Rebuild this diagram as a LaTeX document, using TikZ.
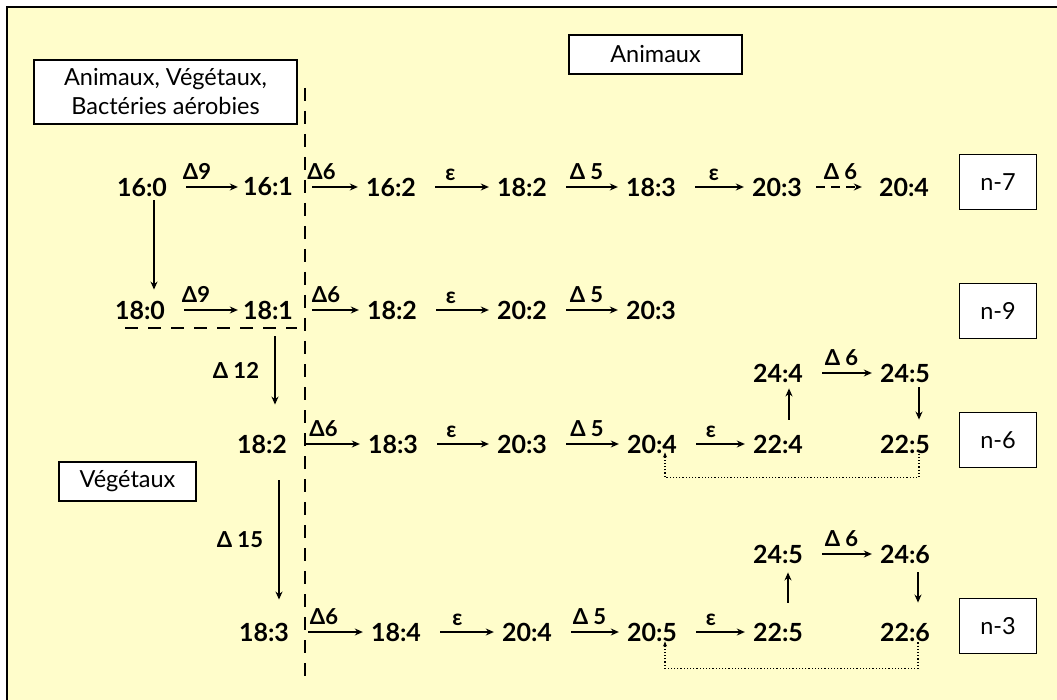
\documentclass[tikz,border=0pt]{standalone}
\usepackage{fontspec}
\setmainfont{Lato}
\usetikzlibrary{arrows.meta,calc,positioning}
\definecolor{Fond}{HTML}{FFFDCB}
\tikzset{
  num/.style={inner sep=2pt,font=\fontsize{25}{29}\selectfont\bfseries},
  enz/.style={inner sep=1pt,font=\fontsize{22}{26}\selectfont\bfseries},
  tag/.style={draw=black,line width=1.4pt,fill=white,inner sep=3pt,align=center,
    font=\fontsize{23.5}{29}\selectfont},
  reac/.style={-{Stealth[length=8pt,width=7pt]},line width=2pt,
    shorten <=17pt,shorten >=6pt},
  vreac/.style={-{Stealth[length=8pt,width=7pt]},line width=2pt},
  retour/.style={-{Stealth[length=5pt,width=4pt]},line width=1.2pt,dotted},
  sep/.style={line width=1.5pt,dash pattern=on 13pt off 10pt},
}
\begin{document}
\begin{tikzpicture}[x=1pt,y=-1pt]
  \useasboundingbox (0,0) rectangle (1057,700);
  \fill[white] (0,0) rectangle (1057,700);
  \fill[Fond] (7,7) rectangle (1057,700);
  \draw[line width=1.6pt] (7,700) |- (1057,7);

  % boites
  \node[tag,minimum width=263pt,minimum height=64pt] (tous) at (165.5,92) {Animaux, Végétaux,\\Bactéries aérobies};
  \node[tag,minimum width=173pt,minimum height=39pt] (animaux) at (655.5,54.5) {Animaux};
  \node[tag,minimum width=137pt,minimum height=39pt] (vegetaux) at (127.5,481.5) {Végétaux};
  \node[tag,minimum width=77pt,minimum height=55pt] (nsept) at (998,182) {n-7};
  \node[tag,minimum width=77pt,minimum height=55pt] (nneuf) at (998,311) {n-9};
  \node[tag,minimum width=77pt,minimum height=55pt] (nsix) at (998,440) {n-6};
  \node[tag,minimum width=77pt,minimum height=55pt] (ntrois) at (998,626) {n-3};

  % separations
  \draw[sep] (305,88) -- (305,677);
  \draw[sep] (125,328) -- (297,328);

  % serie n-7
  \node[num] (sept160) at (142,187) {16:0};
  \node[num] (sept161) at (268,187) {16:1};
  \node[num] (sept162) at (391,187) {16:2};
  \node[num] (sept182) at (522,187) {18:2};
  \node[num] (sept183) at (651,187) {18:3};
  \node[num] (sept203) at (777,187) {20:3};
  \node[num] (sept204) at (904,187) {20:4};
  \draw[reac,shorten >=3pt] (sept160) -- node[enz,above=5pt,xshift=-8pt] {Δ9} (sept161);
  \draw[reac] (sept161) -- node[enz,above=5pt,xshift=-8pt] {Δ6} (sept162);
  \draw[reac] (sept162) -- node[enz,above=4pt,xshift=-6pt] {ε} (sept182);
  \draw[reac] (sept182) -- node[enz,above=5pt] {Δ 5} (sept183);
  \draw[reac] (sept183) -- node[enz,above=4pt] {ε} (sept203);
  \draw[reac,dash pattern=on 9pt off 6pt,shorten <=12pt,shorten >=15pt] (sept203) -- node[enz,above=5pt] {Δ 6} (sept204);

  % serie n-9
  \node[num] (neuf180) at (140,310) {18:0};
  \node[num] (neuf181) at (268,310) {18:1};
  \node[num] (neuf182) at (392,310) {18:2};
  \node[num] (neuf202) at (522,310) {20:2};
  \node[num] (neuf203) at (651,310) {20:3};
  \draw[vreac] ([xshift=12pt,yshift=-2pt]sept160.south) -- ([xshift=14pt,yshift=9pt]neuf180.north);
  \draw[reac,shorten >=3pt] (neuf180) -- node[enz,above=5pt,xshift=-8pt] {Δ9} (neuf181);
  \draw[reac] (neuf181) -- node[enz,above=5pt,xshift=-4pt] {Δ6} (neuf182);
  \draw[reac] (neuf182) -- node[enz,above=4pt,xshift=-6pt] {ε} (neuf202);
  \draw[reac] (neuf202) -- node[enz,above=5pt] {Δ 5} (neuf203);

  % serie n-6
  \node[num] (six182) at (262,444) {18:2};
  \node[num] (six183) at (393,444) {18:3};
  \node[num] (six203) at (522,444) {20:3};
  \node[num] (six204) at (652,444) {20:4};
  \node[num] (six224) at (778,444) {22:4};
  \node[num] (six225) at (905,444) {22:5};
  \node[num] (six244) at (778,373) {24:4};
  \node[num] (six245) at (905,373) {24:5};
  \draw[vreac] ([xshift=7pt,yshift=-15pt]neuf181.south) -- node[enz,left=14pt] {Δ 12} ([xshift=13pt,yshift=28pt]six182.north);
  \draw[reac] (six182) -- node[enz,above=5pt,xshift=-4pt] {Δ6} (six183);
  \draw[reac] (six183) -- node[enz,above=4pt,xshift=-6pt] {ε} (six203);
  \draw[reac] (six203) -- node[enz,above=5pt] {Δ 5} (six204);
  \draw[reac] (six204) -- node[enz,above=4pt,xshift=-4pt] {ε} (six224);
  \draw[vreac] ([xshift=11pt,yshift=13pt]six224.north) -- ([xshift=11pt,yshift=-4pt]six244.south);
  \draw[reac] (six244) -- node[enz,above=5pt] {Δ 6} (six245);
  \draw[vreac] ([xshift=14pt,yshift=-3pt]six245.south) -- ([xshift=14pt,yshift=13pt]six225.north);
  \draw[retour] ([xshift=14pt,yshift=5pt]six225.south) -- ++(0,27) -| ([xshift=13pt,yshift=3pt]six204.south);

  % serie n-3
  \node[num] (trois183) at (264,632) {18:3};
  \node[num] (trois184) at (396,632) {18:4};
  \node[num] (trois204) at (527,632) {20:4};
  \node[num] (trois205) at (652,632) {20:5};
  \node[num] (trois225) at (778,632) {22:5};
  \node[num] (trois226) at (905,632) {22:6};
  \node[num] (trois245) at (778,554) {24:5};
  \node[num] (trois246) at (905,554) {24:6};
  \draw[vreac] ([xshift=17pt,yshift=-25pt]six182.south) -- node[enz,left=14pt] {Δ 15} ([xshift=15pt,yshift=21pt]trois183.north);
  \draw[reac] (trois183) -- node[enz,above=5pt,xshift=-6pt] {Δ6} (trois184);
  \draw[reac] (trois184) -- node[enz,above=4pt,xshift=-4pt] {ε} (trois204);
  \draw[reac] (trois204) -- node[enz,above=5pt] {Δ 5} (trois205);
  \draw[reac] (trois205) -- node[enz,above=4pt,xshift=-4pt] {ε} (trois225);
  \draw[vreac] ([xshift=10pt,yshift=18pt]trois225.north) -- ([xshift=10pt,yshift=-7pt]trois245.south);
  \draw[reac] (trois245) -- node[enz,above=5pt] {Δ 6} (trois246);
  \draw[vreac] ([xshift=13pt,yshift=-7pt]trois246.south) -- ([xshift=13pt,yshift=18pt]trois226.north);
  \draw[retour] ([xshift=13pt,yshift=1pt]trois226.south) -- ++(0,26) -| ([xshift=13pt,yshift=2pt]trois205.south);
\end{tikzpicture}
\end{document}
